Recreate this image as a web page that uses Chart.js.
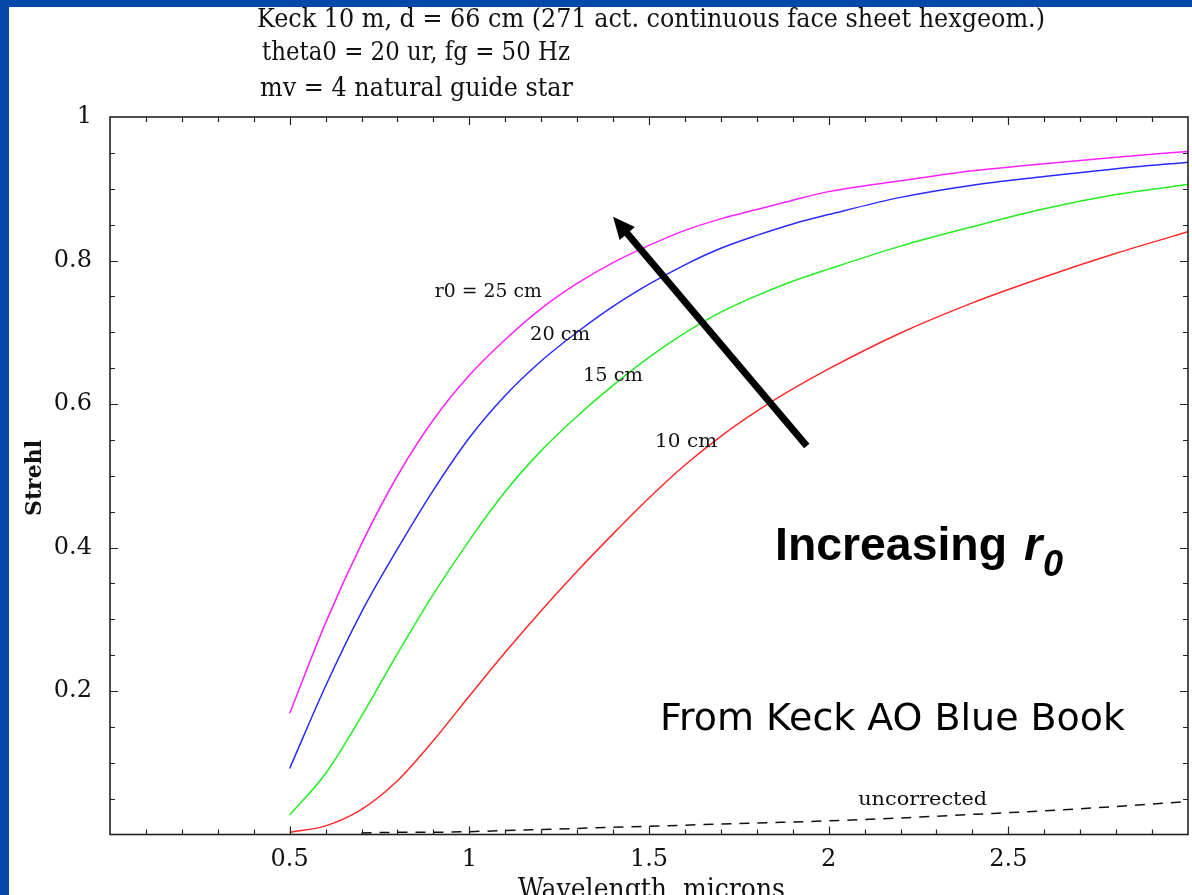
<!DOCTYPE html>
<html>
<head>
<meta charset="utf-8">
<script src="https://cdn.jsdelivr.net/npm/chart.js@4.4.1/dist/chart.umd.min.js"></script>
<style>
  html, body { margin: 0; padding: 0; background: #0448aa; overflow: hidden; }
  #wrap { position: absolute; left: 0; top: 0; width: 1192px; height: 895px; }
</style>
</head>
<body>
<div id="wrap"><canvas id="strehlChart" width="1192" height="895"></canvas></div>
<script>
// wavelength in microns
const wavelengths = [0.5, 0.6, 0.7, 0.8, 0.9, 1.0, 1.1, 1.2, 1.3, 1.4, 1.5, 1.6, 1.7, 1.8, 1.9, 2.0, 2.2, 2.4, 2.6, 2.8, 3.0];

// strehl for each r0
const strehl25 = [0.169, 0.295, 0.405, 0.500, 0.578, 0.640, 0.690, 0.733, 0.768, 0.797, 0.821, 0.842, 0.858, 0.871, 0.884, 0.896, 0.911, 0.925, 0.935, 0.944, 0.952];
const strehl20 = [0.092, 0.207, 0.310, 0.398, 0.480, 0.553, 0.612, 0.660, 0.700, 0.736, 0.767, 0.794, 0.817, 0.835, 0.851, 0.864, 0.888, 0.905, 0.917, 0.928, 0.937];
const strehl15 = [0.027, 0.085, 0.165, 0.252, 0.335, 0.410, 0.478, 0.535, 0.583, 0.626, 0.665, 0.699, 0.728, 0.751, 0.771, 0.788, 0.820, 0.847, 0.872, 0.892, 0.906];
const strehl10 = [0.003, 0.012, 0.035, 0.075, 0.131, 0.193, 0.254, 0.312, 0.367, 0.419, 0.469, 0.515, 0.555, 0.590, 0.621, 0.649, 0.699, 0.741, 0.777, 0.810, 0.840];

const uncorrWavelengths = [0.7, 0.8, 0.9, 1.0, 1.2, 1.4, 1.6, 1.8, 2.0, 2.2, 2.4, 2.6, 2.8, 3.0];
const strehlUncorr = [0.002, 0.003, 0.003, 0.004, 0.007, 0.010, 0.013, 0.016, 0.019, 0.023, 0.028, 0.033, 0.039, 0.046];

const xTickValues = [0.5, 1, 1.5, 2, 2.5];
const yTickValues = [0.2, 0.4, 0.6, 0.8, 1];

const titleLines = [
  'Keck 10 m, d = 66 cm (271 act. continuous face sheet hexgeom.)',
  'theta0 = 20 ur, fg = 50 Hz',
  'mv = 4 natural guide star'
];

// curve labels, placed in data units
const curveLabels = [
  { text: 'r0 = 25 cm', x: 0.904, y: 0.756, w: 107 },
  { text: '20 cm', x: 1.169, y: 0.696, w: 60 },
  { text: '15 cm', x: 1.316, y: 0.639, w: 60 },
  { text: '10 cm', x: 1.517, y: 0.547, w: 62 },
  { text: 'uncorrected', x: 2.082, y: 0.048, w: 129 }
];

const arrowFrom = { x: 1.939, y: 0.5415 };
const arrowTo = { x: 1.40, y: 0.861 };

const serif = '"DejaVu Serif", "Liberation Serif", serif';
const sansBold = '"Liberation Sans", Arial, sans-serif';

function pairs(xs, ys) {
  return xs.map((x, i) => ({ x: x, y: ys[i] }));
}

// draw text squeezed or stretched to a given width
function fitText(ctx, text, x, y, width, font) {
  ctx.save();
  ctx.font = font;
  const w = ctx.measureText(text).width;
  ctx.translate(x, y);
  ctx.scale(width / w, 1);
  ctx.fillText(text, 0, 0);
  ctx.restore();
}

const framePlugin = {
  id: 'frame',
  beforeDraw(chart) {
    const ctx = chart.ctx;
    ctx.save();
    ctx.fillStyle = '#ffffff';
    ctx.fillRect(0, 0, chart.width, chart.height);
    ctx.restore();
  },
  afterDatasetsDraw(chart) {
    const { ctx, chartArea: a, scales: { x, y } } = chart;
    ctx.save();
    ctx.strokeStyle = '#222';
    ctx.lineWidth = 1.2;
    ctx.beginPath();
    for (let i = 1; i < 30; i++) {
      const px = Math.round(x.getPixelForValue(i / 10)) + 0.5;
      const len = i % 5 === 0 ? 8 : 5;
      ctx.moveTo(px, a.bottom); ctx.lineTo(px, a.bottom - len);
      ctx.moveTo(px, a.top); ctx.lineTo(px, a.top + len);
    }
    for (let i = 1; i < 20; i++) {
      const py = Math.round(y.getPixelForValue(i / 20)) + 0.5;
      const len = i % 4 === 0 ? 8 : 5;
      ctx.moveTo(a.left, py); ctx.lineTo(a.left + len, py);
      ctx.moveTo(a.right, py); ctx.lineTo(a.right - len, py);
    }
    ctx.stroke();
    ctx.lineWidth = 1.6;
    ctx.strokeRect(a.left, a.top, a.right - a.left, a.bottom - a.top);

    // curve labels
    ctx.fillStyle = '#111';
    ctx.textBaseline = 'middle';
    curveLabels.forEach(l => {
      fitText(ctx, l.text, x.getPixelForValue(l.x), y.getPixelForValue(l.y), l.w, '19px ' + serif);
    });

    // arrow
    const x0 = x.getPixelForValue(arrowFrom.x), y0 = y.getPixelForValue(arrowFrom.y);
    const x1 = x.getPixelForValue(arrowTo.x), y1 = y.getPixelForValue(arrowTo.y);
    const ang = Math.atan2(y1 - y0, x1 - x0);
    const headLen = 22, headHalf = 10;
    const bx = x1 - Math.cos(ang) * headLen, by = y1 - Math.sin(ang) * headLen;
    ctx.strokeStyle = '#000';
    ctx.lineWidth = 7;
    ctx.beginPath();
    ctx.moveTo(x0, y0);
    ctx.lineTo(bx + Math.cos(ang) * 4, by + Math.sin(ang) * 4);
    ctx.stroke();
    ctx.fillStyle = '#000';
    ctx.beginPath();
    ctx.moveTo(x1, y1);
    ctx.lineTo(bx + Math.sin(ang) * headHalf, by - Math.cos(ang) * headHalf);
    ctx.lineTo(bx - Math.sin(ang) * headHalf, by + Math.cos(ang) * headHalf);
    ctx.closePath();
    ctx.fill();

    // slide text
    ctx.textBaseline = 'alphabetic';
    ctx.fillStyle = '#000';
    fitText(ctx, 'Increasing', 775, 560, 232, 'bold 47px ' + sansBold);
    ctx.font = 'italic bold 47px ' + sansBold;
    ctx.fillText('r', 1024, 560);
    ctx.font = 'italic bold 36px ' + sansBold;
    ctx.fillText('0', 1043, 576);
    fitText(ctx, 'From Keck AO Blue Book', 660, 730, 465, '38px "DejaVu Sans", sans-serif');
    ctx.restore();
  },
  afterDraw(chart) {
    const ctx = chart.ctx;
    ctx.save();
    ctx.fillStyle = '#111';
    ctx.textBaseline = 'alphabetic';
    fitText(ctx, titleLines[0], 257, 27, 788, '26px ' + serif);
    fitText(ctx, titleLines[1], 262, 60, 308, '26px ' + serif);
    fitText(ctx, titleLines[2], 260, 96, 313, '26px ' + serif);
    fitText(ctx, 'Wavelength, microns', 518, 898, 267, '27px ' + serif);

    ctx.save();
    ctx.translate(41, 478);
    ctx.rotate(-Math.PI / 2);
    ctx.textAlign = 'center';
    ctx.font = 'bold 22px ' + serif;
    ctx.fillText('Strehl', 0, 0);
    ctx.restore();

    // blue slide frame
    ctx.fillStyle = '#0448aa';
    ctx.fillRect(0, 0, chart.width, 7);
    ctx.fillRect(0, 0, 9, chart.height);
    ctx.restore();
  }
};

const lineStyle = { fill: false, pointRadius: 0, borderWidth: 1.5, cubicInterpolationMode: 'monotone' };

new Chart(document.getElementById('strehlChart').getContext('2d'), {
  type: 'line',
  data: {
    datasets: [
      Object.assign({ label: 'r0 = 25 cm', data: pairs(wavelengths, strehl25), borderColor: '#ff22ff' }, lineStyle),
      Object.assign({ label: '20 cm', data: pairs(wavelengths, strehl20), borderColor: '#2a2aff' }, lineStyle),
      Object.assign({ label: '15 cm', data: pairs(wavelengths, strehl15), borderColor: '#22ee22' }, lineStyle),
      Object.assign({ label: '10 cm', data: pairs(wavelengths, strehl10), borderColor: '#ff2a2a' }, lineStyle),
      Object.assign({ label: 'uncorrected', data: pairs(uncorrWavelengths, strehlUncorr), borderColor: '#111', borderDash: [10, 8] }, lineStyle)
    ]
  },
  options: {
    responsive: false,
    animation: false,
    devicePixelRatio: 1,
    layout: { padding: { left: 0, top: 117, right: 4, bottom: 0 } },
    plugins: { legend: { display: false }, tooltip: { enabled: false } },
    scales: {
      x: {
        type: 'linear', min: 0, max: 3,
        grid: { display: false, drawTicks: false },
        border: { display: false },
        ticks: { color: '#111', font: { family: serif, size: 24 }, padding: 11, maxRotation: 0, callback: v => String(v) },
        afterBuildTicks: s => { s.ticks = xTickValues.map(v => ({ value: v })); },
        afterFit: s => { s.height = 60.5; }
      },
      y: {
        type: 'linear', min: 0, max: 1,
        grid: { display: false, drawTicks: false },
        border: { display: false },
        ticks: { color: '#111', font: { family: serif, size: 24 }, padding: 18, callback: v => String(v) },
        afterBuildTicks: s => { s.ticks = yTickValues.map(v => ({ value: v })); },
        afterFit: s => { s.width = 110; }
      }
    }
  },
  plugins: [framePlugin]
});
</script>
</body>
</html>
